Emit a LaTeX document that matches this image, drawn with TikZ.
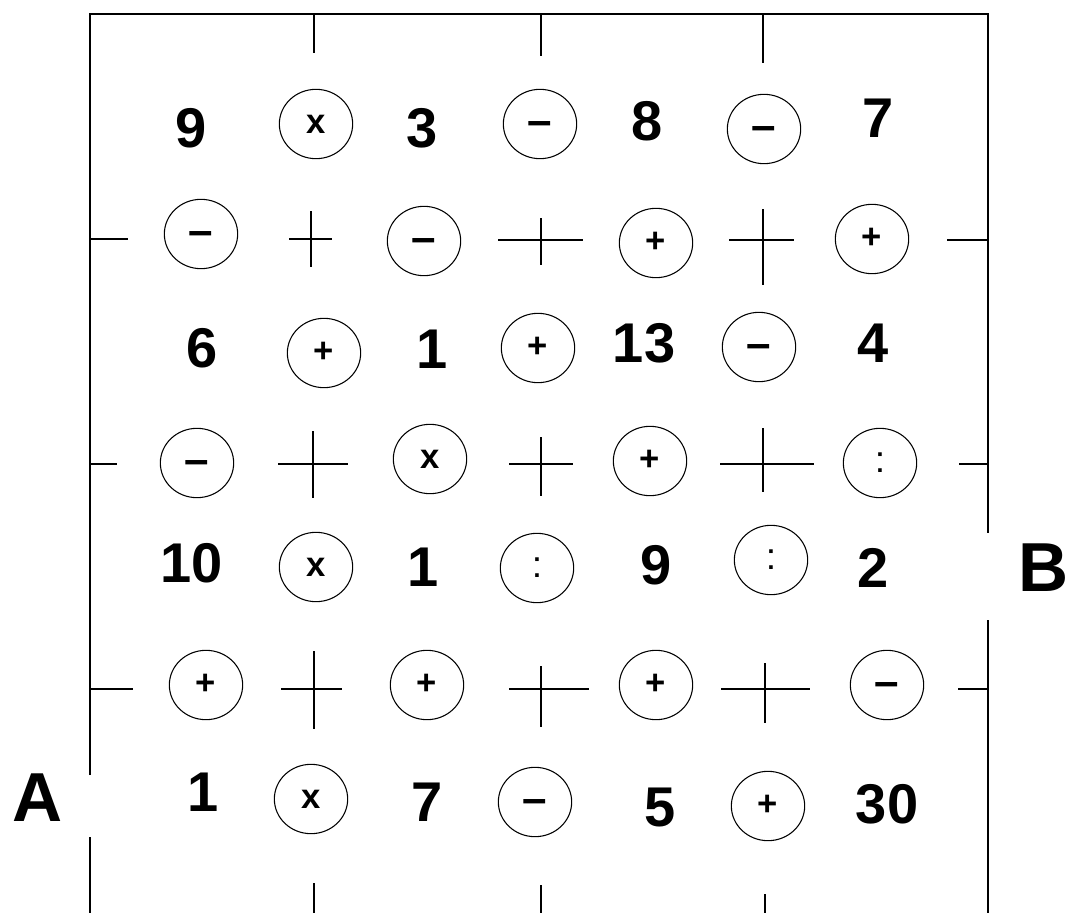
\documentclass[tikz,border=0pt]{standalone}
\usepackage{fontspec}
\setmainfont{Liberation Sans}
\usetikzlibrary{shapes.geometric}
\tikzset{
  num/.style={font=\fontsize{42}{42}\selectfont\bfseries, inner sep=0pt},
  letter/.style={font=\fontsize{52}{52}\selectfont\bfseries, inner sep=0pt},
  op/.style={draw, ellipse, line width=0.8pt, minimum width=55pt, minimum height=52pt,
    inner sep=0pt, text height=13.5pt, text depth=0pt, font=\fontsize{26}{26}\selectfont\bfseries},
  opminus/.style={op, text height=17pt, font=\fontsize{33}{33}\selectfont\bfseries},
  opdiv/.style={op, text height=14pt, font=\fontsize{28}{28}\selectfont},
  rule/.style={line width=1.4pt},
}
\begin{document}
\begin{tikzpicture}[x=0.75pt,y=-0.75pt]
\useasboundingbox (0,0) rectangle (1069,913);
% frame
\coordinate (tl) at (90,14);
\coordinate (tr) at (988,14);
\coordinate (la) at (90,775);
\coordinate (lb) at (90,837);
\coordinate (lbot) at (90,913);
\coordinate (ra) at (988,533);
\coordinate (rb) at (988,620);
\coordinate (rbot) at (988,913);
\draw[rule] (la) -- (tl) -- (tr) -- (ra);
\draw[rule] (lb) -- (lbot);
\draw[rule] (rb) -- (rbot);
% top ticks
\draw[rule] (314,14) -- (314,53);
\draw[rule] (541,14) -- (541,56);
\draw[rule] (763,14) -- (763,63);
% bottom ticks
\draw[rule] (314,883) -- (314,913);
\draw[rule] (541,885) -- (541,913);
\draw[rule] (765,894) -- (765,913);
% side ticks
\draw[rule] (90,239) -- (128,239);
\draw[rule] (90,464) -- (117,464);
\draw[rule] (90,689) -- (133,689);
\draw[rule] (947,240) -- (988,240);
\draw[rule] (959,464) -- (988,464);
\draw[rule] (958,689) -- (988,689);
% crosses row 2
\draw[rule] (289,239) -- (332,239) (311,211) -- (311,267);
\draw[rule] (498,240) -- (583,240) (541,218) -- (541,265);
\draw[rule] (729,240) -- (794,240) (763,209) -- (763,285);
% crosses row 4
\draw[rule] (278,464) -- (348,464) (313,431) -- (313,498);
\draw[rule] (509,464) -- (573,464) (541,437) -- (541,496);
\draw[rule] (720,464) -- (814,464) (763,428) -- (763,492);
% crosses row 6
\draw[rule] (281,689) -- (342,689) (314,651) -- (314,729);
\draw[rule] (509,689) -- (589,689) (541,666) -- (541,727);
\draw[rule] (721,689) -- (810,689) (765,663) -- (765,723);
% row 1
\node[num]     (r1a) at (191,128) {9};
\node[op]      (r1b) at (316,124) {x};
\node[num]     (r1c) at (422,128) {3};
\node[opminus] (r1d) at (540,124) {–};
\node[num]     (r1e) at (647,121) {8};
\node[opminus] (r1f) at (764,129) {–};
\node[num]     (r1g) at (878,118) {7};
% row 2
\node[opminus] (r2a) at (201,234) {–};
\node[opminus] (r2c) at (424,241) {–};
\node[op]      (r2e) at (656,243) {+};
\node[op]      (r2g) at (872,239) {+};
% row 3
\node[num]     (r3a) at (202,348) {6};
\node[op]      (r3b) at (324,353) {+};
\node[num]     (r3c) at (432,349) {1};
\node[op]      (r3d) at (538,348) {+};
\node[num]     (r3e) at (644,343) {13};
\node[opminus] (r3f) at (759,347) {–};
\node[num]     (r3g) at (873,343) {4};
% row 4
\node[opminus] (r4a) at (197,463) {–};
\node[op]      (r4c) at (430,459) {x};
\node[op]      (r4e) at (650,461) {+};
\node[opdiv]   (r4g) at (880,463) {:};
% row 5
\node[num]     (r5a) at (192,563) {10};
\node[op]      (r5b) at (316,567) {x};
\node[num]     (r5c) at (423,567) {1};
\node[opdiv]   (r5d) at (537,568) {:};
\node[num]     (r5e) at (656,565) {9};
\node[opdiv]   (r5f) at (771,560) {:};
\node[num]     (r5g) at (873,568) {2};
% row 6
\node[op]      (r6a) at (206,685) {+};
\node[op]      (r6c) at (427,685) {+};
\node[op]      (r6e) at (656,685) {+};
\node[opminus] (r6g) at (887,685) {–};
% row 7
\node[num]     (r7a) at (203,792) {1};
\node[op]      (r7b) at (311,799) {x};
\node[num]     (r7c) at (427,802) {7};
\node[opminus] (r7d) at (535,802) {–};
\node[num]     (r7e) at (660,807) {5};
\node[op]      (r7f) at (768,806) {+};
\node[num]     (r7g) at (887,804) {30};
% labels
\node[letter] (A) at (38,798) {A};
\node[letter] (B) at (1044,568) {B};
\end{tikzpicture}
\end{document}
